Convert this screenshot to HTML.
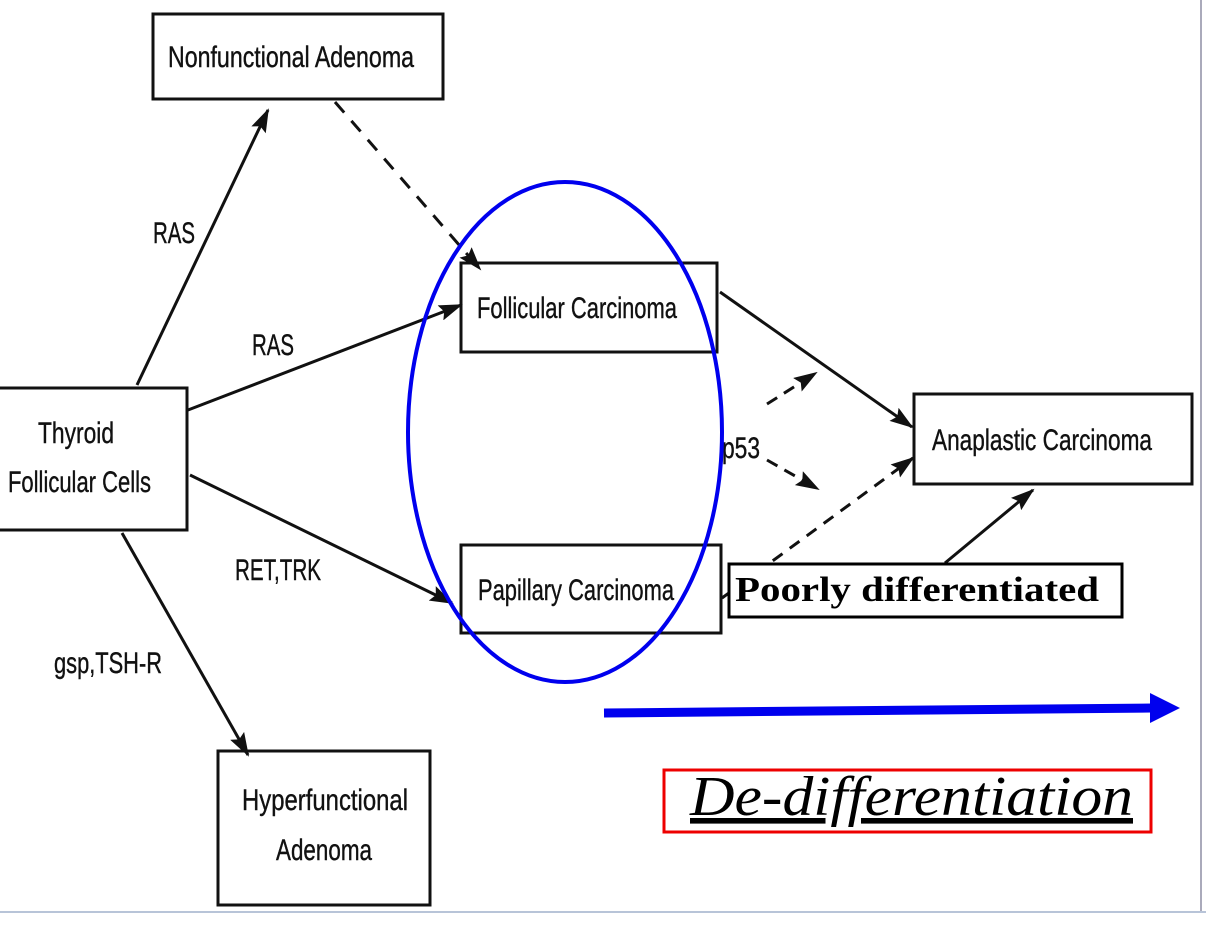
<!DOCTYPE html>
<html><head><meta charset="utf-8"><style>
html,body{margin:0;padding:0;background:#fff;}
svg{display:block;}
.t{font-family:"Liberation Sans",sans-serif;font-size:30px;fill:#111;stroke:#111;stroke-width:0.4;}
</style></head><body>
<svg width="1206" height="932" viewBox="0 0 1206 932" xmlns="http://www.w3.org/2000/svg">
<defs>
<marker id="b" markerWidth="24" markerHeight="16" refX="22" refY="8" orient="auto" markerUnits="userSpaceOnUse">
<path d="M0,0 L24,8 L0,16 L4,8 z" fill="#111"/></marker>
</defs>
<rect width="1206" height="932" fill="#fff"/>
<line x1="1201" y1="0" x2="1201" y2="912" stroke="#aab" stroke-width="2"/>
<line x1="0" y1="912" x2="1206" y2="912" stroke="#b8c4d8" stroke-width="2"/>
<g fill="#fff" stroke="#111" stroke-width="3">
<rect x="153" y="14" width="290" height="85"/>
<rect x="-4" y="388" width="191" height="142"/>
<rect x="461" y="263" width="256" height="89"/>
<rect x="461" y="545" width="260" height="88"/>
<rect x="914" y="394" width="278" height="90"/>
<rect x="218" y="751" width="212" height="154"/>
</g>
<text class="t" x="168" y="67" textLength="246" lengthAdjust="spacingAndGlyphs">Nonfunctional Adenoma</text>
<text class="t" x="38" y="443" textLength="76" lengthAdjust="spacingAndGlyphs">Thyroid</text>
<text class="t" x="8" y="492" textLength="143" lengthAdjust="spacingAndGlyphs">Follicular Cells</text>
<text class="t" x="477" y="318" textLength="200" lengthAdjust="spacingAndGlyphs">Follicular Carcinoma</text>
<text class="t" x="478" y="600" textLength="196" lengthAdjust="spacingAndGlyphs">Papillary Carcinoma</text>
<text class="t" x="932" y="450" textLength="220" lengthAdjust="spacingAndGlyphs">Anaplastic Carcinoma</text>
<text class="t" x="242" y="810" textLength="166" lengthAdjust="spacingAndGlyphs">Hyperfunctional</text>
<text class="t" x="276" y="860" textLength="96" lengthAdjust="spacingAndGlyphs">Adenoma</text>
<text class="t" x="153" y="243" textLength="42" lengthAdjust="spacingAndGlyphs">RAS</text>
<text class="t" x="252" y="355" textLength="42" lengthAdjust="spacingAndGlyphs">RAS</text>
<text class="t" x="235" y="580" textLength="86" lengthAdjust="spacingAndGlyphs">RET,TRK</text>
<text class="t" x="54" y="673" textLength="108" lengthAdjust="spacingAndGlyphs">gsp,TSH-R</text>
<text class="t" x="722" y="458" textLength="38" lengthAdjust="spacingAndGlyphs">p53</text>
<g stroke="#111" stroke-width="3" fill="none">
<line x1="137" y1="385" x2="268" y2="110" marker-end="url(#b)"/>
<line x1="188" y1="410" x2="461" y2="305" marker-end="url(#b)"/>
<line x1="190" y1="475" x2="452" y2="603" marker-end="url(#b)"/>
<line x1="122" y1="533" x2="248" y2="755" marker-end="url(#b)"/>
<line x1="720" y1="292" x2="912" y2="427" marker-end="url(#b)"/>
<line x1="335" y1="102" x2="480" y2="269" stroke-dasharray="14,11" marker-end="url(#b)"/>
<line x1="767" y1="404" x2="816" y2="373" stroke-dasharray="12,8" marker-end="url(#b)"/>
<line x1="767" y1="460" x2="818" y2="489" stroke-dasharray="12,8" marker-end="url(#b)"/>
<line x1="722" y1="598" x2="913" y2="458" stroke-dasharray="12,9" marker-end="url(#b)"/>
<line x1="945" y1="563" x2="1033" y2="490" marker-end="url(#b)"/>
</g>
<ellipse cx="565" cy="432" rx="157" ry="250" fill="none" stroke="#0000ee" stroke-width="4"/>
<rect x="729" y="564" width="393" height="53" fill="#fff" stroke="#000" stroke-width="3"/>
<text x="735" y="601" font-family="'Liberation Serif',serif" font-weight="bold" font-size="35" fill="#000" textLength="364" lengthAdjust="spacingAndGlyphs">Poorly differentiated</text>
<line x1="604" y1="713" x2="1152" y2="708" stroke="#0000ee" stroke-width="9"/>
<path d="M1150,693 L1180,708 L1150,723 z" fill="#0000ee"/>
<rect x="664" y="770" width="487" height="62" fill="#fff" stroke="#ee0000" stroke-width="3"/>
<text x="690" y="815" font-family="'Liberation Serif',serif" font-style="italic" font-size="56" fill="#000" text-decoration="underline" textLength="443" lengthAdjust="spacingAndGlyphs">De-differentiation</text>
</svg>
</body></html>
